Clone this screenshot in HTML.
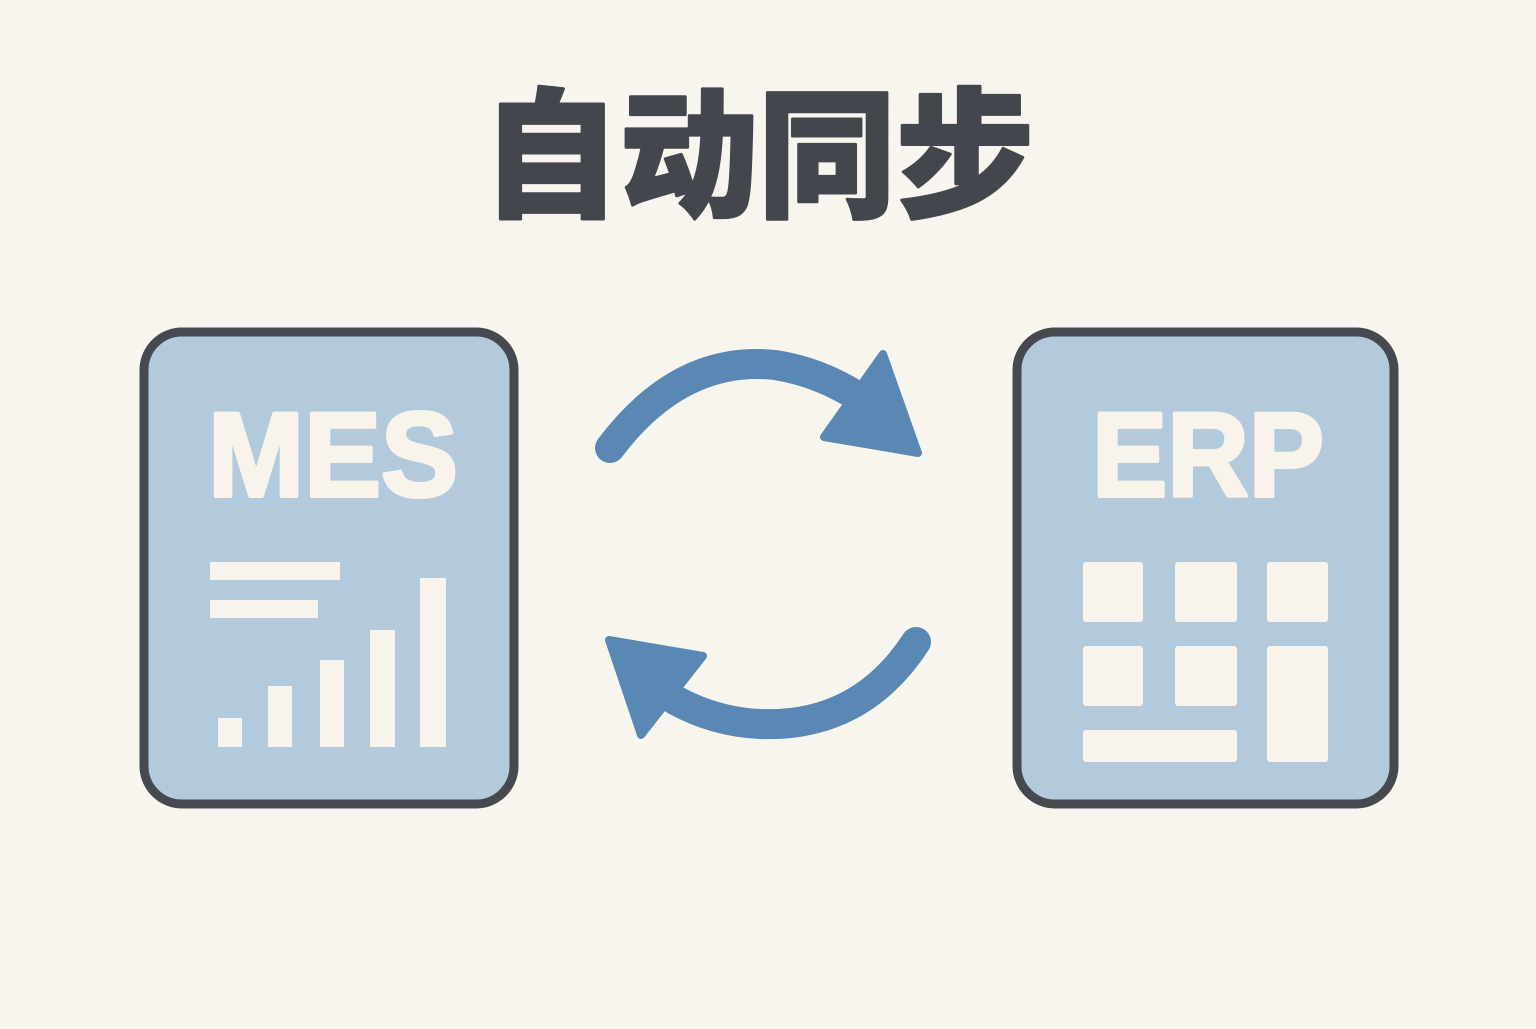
<!DOCTYPE html>
<html><head><meta charset="utf-8"><style>
body{margin:0;width:1536px;height:1024px;background:#f8f5ee;overflow:hidden}
</style></head><body>
<svg width="1536" height="1024" xmlns="http://www.w3.org/2000/svg">
<text x="758" y="206" text-anchor="middle" textLength="552" lengthAdjust="spacingAndGlyphs" style="font-family:'Noto Sans CJK SC','WenQuanYi Zen Hei',sans-serif;font-weight:900;font-size:140px" fill="#43474d" stroke="#43474d" stroke-width="3" stroke-linejoin="round">自动同步</text>
<rect x="144" y="332" width="370" height="472" rx="38" fill="#b3c9dc" stroke="#464a50" stroke-width="9"/>
<rect x="1017" y="332" width="377" height="472" rx="38" fill="#b3c9dc" stroke="#464a50" stroke-width="9"/>
<g style="font-family:'Liberation Sans',sans-serif;font-weight:700;font-size:120px" fill="#f8f4ec" stroke="#f8f4ec" stroke-width="4" stroke-linejoin="round">
<text x="333" y="496" text-anchor="middle" textLength="250" lengthAdjust="spacingAndGlyphs">MES</text>
<text x="1208" y="496" text-anchor="middle" textLength="232" lengthAdjust="spacingAndGlyphs">ERP</text>
</g>
<g fill="#f8f4ec">
<rect x="210" y="562" width="130" height="18"/>
<rect x="210" y="600" width="108" height="18"/>
<rect x="218" y="718" width="24" height="29"/>
<rect x="268" y="686" width="24" height="61"/>
<rect x="320" y="660" width="24" height="87"/>
<rect x="370" y="630" width="25" height="117"/>
<rect x="420" y="578" width="26" height="169"/>
<rect x="1083" y="562" width="60" height="60" rx="3"/>
<rect x="1175" y="562" width="62" height="60" rx="3"/>
<rect x="1267" y="562" width="61" height="60" rx="3"/>
<rect x="1083" y="646" width="60" height="60" rx="3"/>
<rect x="1175" y="646" width="62" height="60" rx="3"/>
<rect x="1267" y="646" width="61" height="116" rx="3"/>
<rect x="1083" y="730" width="154" height="32" rx="3"/>
</g>
<g fill="none" stroke="#5a88b4" stroke-width="30" stroke-linecap="round">
<path d="M610 448 Q680 355 775 365 Q820 372 860 398"/>
<path d="M916 642 Q860 728 760 724 Q715 722 675 700"/>
</g>
<g fill="#5a88b4" stroke="#5a88b4" stroke-width="8" stroke-linejoin="round">
<polygon points="883,354 918,453 824,437"/>
<polygon points="609,640 703,656 641,735"/>
</g>
</svg>
</body></html>
